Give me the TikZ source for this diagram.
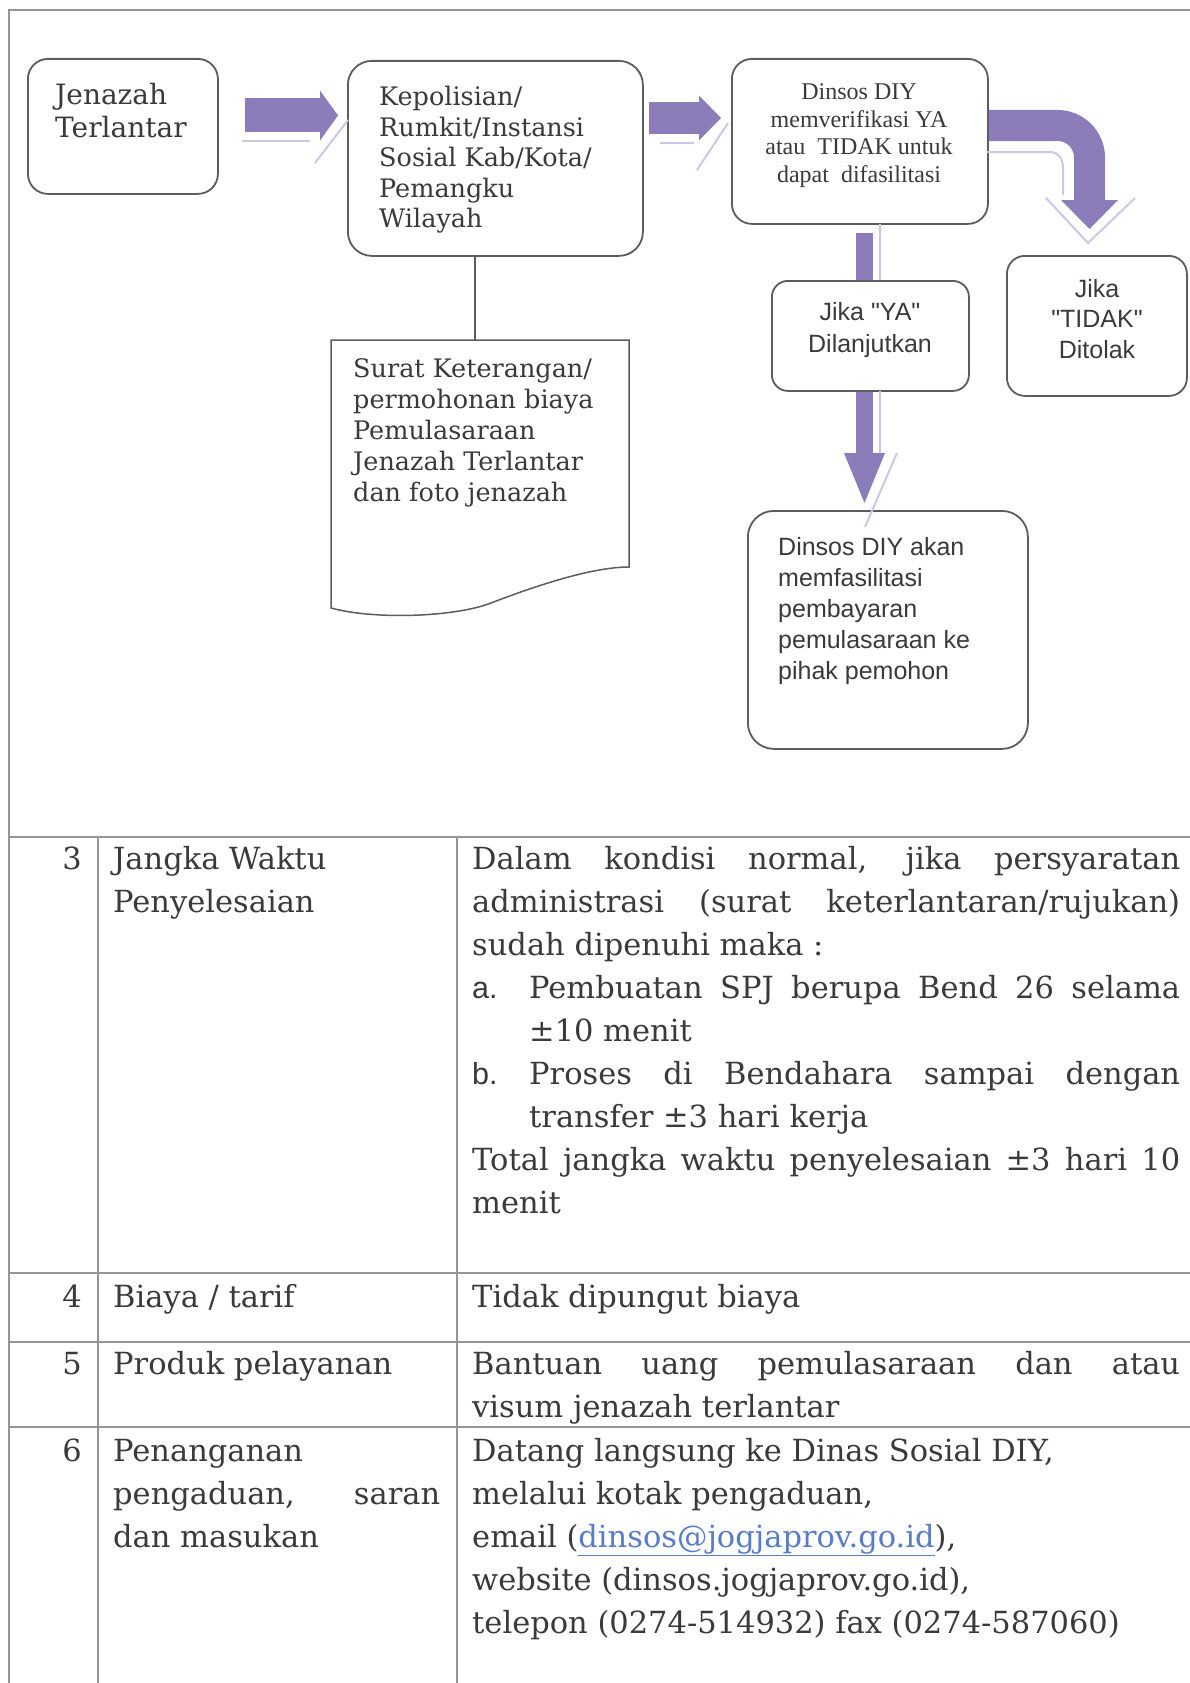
\documentclass[tikz,border=0pt]{standalone}
\usepackage{fontspec}
\setmainfont{DejaVu Serif}
\newfontfamily\timesfont{Liberation Serif}
\newfontfamily\arialfont{Liberation Sans}
\usetikzlibrary{arrows.meta}

\definecolor{ungu}{RGB}{141,124,186}
\definecolor{ungumuda}{RGB}{206,199,228}
\definecolor{tepi}{RGB}{92,92,92}
\definecolor{garistabel}{RGB}{150,150,150}
\definecolor{tinta}{RGB}{58,58,58}
\definecolor{tautan}{RGB}{88,124,200}

\newcommand{\susun}[1]{\begin{tabular}[t]{@{}l@{}}#1\end{tabular}}
\newcommand{\susunc}[1]{\begin{tabular}[t]{@{}c@{}}#1\end{tabular}}
\newcommand{\rata}[2]{\makebox[#1][s]{#2}}

\begin{document}
\begin{tikzpicture}[x=1pt, y=-1pt,
  kotak/.style={draw=tepi, line width=1.8pt, fill=white, rounded corners=20pt,
    inner sep=0pt, anchor=north west},
  tulis/.style={inner sep=0pt, text=tinta, anchor=base west},
  bookman/.style={tulis, font=\fontsize{25.5}{31}\selectfont},
  arial/.style={tulis, anchor=base, font=\arialfont\fontsize{25}{30.5}\selectfont},
  tabel/.style={tulis, font=\fontsize{30.5}{43}\selectfont},
  bayang/.style={ungumuda, line width=2pt},
  garis/.style={garistabel, line width=2pt}]
  \useasboundingbox (0,0) rectangle (1190,1683);

  % bingkai dan tabel
  \draw[garis] (9,1683) -- (9,10) -- (1190,10);
  \foreach \y in {837,1273,1342,1427}
    \draw[garis] (9,\y) -- (1190,\y);
  \foreach \x in {98,457}
    \draw[garis] (\x,837) -- (\x,1683);

  % kotak alur
  \node[kotak, minimum width=190pt, minimum height=135pt] (jenazah) at (27,58) {};
  \node[kotak, minimum width=295pt, minimum height=195pt, rounded corners=24pt] (kepolisian) at (347,60) {};
  \node[kotak, minimum width=256pt, minimum height=165pt] (verifikasi) at (731,58) {};
  \node[kotak, minimum width=197pt, minimum height=110pt, rounded corners=16pt] (ya) at (771,280) {};
  \node[kotak, minimum width=180pt, minimum height=140pt, rounded corners=18pt] (tidak) at (1006,255) {};
  \node[kotak, minimum width=280pt, minimum height=238pt, rounded corners=26pt] (fasilitasi) at (747,510) {};

  % dokumen surat
  \coordinate (suratAtas) at (475,340);
  \draw[tepi, line width=1.5pt] (331,340) -- (629,340) -- (629,567)
    .. controls (590,567) and (530,588) .. (491,603)
    .. controls (455,617) and (375,620) .. (331,608) -- cycle;
  \draw[tepi, line width=1.5pt] (kepolisian.south -| suratAtas) -- (suratAtas);

  % panah blok
  \coordinate (p1a) at (245,115.5);
  \coordinate (p1b) at (338,115.5);
  \coordinate (p2a) at (649,118);
  \coordinate (p2b) at (721,118);
  \coordinate (p3a) at (0,125.5);
  \coordinate (p3b) at (1089.5,229);
  \coordinate (p4a) at (864.5,233);
  \coordinate (p5b) at (864.5,503);
  \draw[bayang] (242,141) -- (310,141);
  \draw[bayang] (315,163) -- (348,120);
  \draw[bayang] (660,143) -- (694,143);
  \draw[bayang] (697,170) -- (728,123);
  \draw[bayang] (987,152) -- (1050,152) .. controls (1058,152) and (1063,158) .. (1063,168) -- (1063,195);
  \draw[bayang] (1046,198) -- (1088,243) -- (1135,198);
  \draw[bayang] (880,224) -- (880,280);
  \draw[bayang] (880,391) -- (880,453);
  \draw[bayang] (897,453) -- (865,527);
  \draw[ungu, line width=34pt, -{Triangle[width=50pt, length=18pt, line width=0pt]}] (p1a) -- (p1b);
  \draw[ungu, line width=32pt, -{Triangle[width=45pt, length=22pt, line width=0pt]}] (p2a) -- (p2b);
  \draw[ungu, line width=31pt, rounded corners=32pt, -{Triangle[width=57pt, length=29pt, line width=0pt]}]
    (verifikasi.east |- p3a) -| (p3b);
  \draw[ungu, line width=17pt] (p4a) -- (p4a |- ya.north);
  \draw[ungu, line width=17pt, -{Triangle[width=41pt, length=50pt, line width=0pt]}] (ya.south -| p5b) -- (p5b);

  % teks alur
  \node[tulis, font=\fontsize{28}{33}\selectfont] (jenazahT) at (55,105) {\susun{Jenazah\\Terlantar}};
  \node[bookman, font=\fontsize{25.5}{30.5}\selectfont] (kepolisianT) at (379,106)
    {\susun{Kepolisian/\\Rumkit/Instansi\\Sosial Kab/Kota/\\Pemangku\\Wilayah}};
  \node[tulis, anchor=base, font=\timesfont\fontsize{24}{27.5}\selectfont] (verifikasiT) at (859,100)
    {\susunc{Dinsos DIY\\memverifikasi YA\\atau\ \ TIDAK untuk\\dapat\ \ difasilitasi}};
  \node[arial, font=\arialfont\fontsize{25}{32}\selectfont] (yaT) at (870,320) {\susunc{Jika "YA"\\Dilanjutkan}};
  \node[arial] (tidakT) at (1097,297) {\susunc{Jika\\"TIDAK"\\Ditolak}};
  \node[arial, anchor=base west, font=\arialfont\fontsize{25}{31}\selectfont] (fasilitasiT) at (778,555)
    {\susun{Dinsos DIY akan\\memfasilitasi\\pembayaran\\pemulasaraan ke\\pihak pemohon}};
  \node[bookman] (suratT) at (353,377)
    {\susun{Surat Keterangan/\\permohonan biaya\\Pemulasaraan\\Jenazah Terlantar\\dan foto jenazah}};

  % isi tabel
  \node[tabel, anchor=base east] (no3) at (82,869) {3};
  \node[tabel, anchor=base east] (no4) at (82,1307) {4};
  \node[tabel, anchor=base east] (no5) at (82,1374) {5};
  \node[tabel, anchor=base east] (no6) at (82,1461) {6};
  \node[tabel] (hal3) at (113,869) {\susun{Jangka Waktu\\Penyelesaian}};
  \node[tabel] (hal4) at (113,1307) {Biaya / tarif};
  \node[tabel] (hal5) at (113,1374) {Produk pelayanan};
  \node[tabel] (hal6) at (113,1461) {\susun{Penanganan\\\rata{327pt}{pengaduan, saran}\\dan masukan}};
  \node[tabel] (isi3) at (472,869) {\susun{%
    \rata{708pt}{Dalam kondisi normal, jika persyaratan}\\
    \rata{708pt}{administrasi (surat keterlantaran/rujukan)}\\
    sudah dipenuhi maka :\\
    \makebox[57pt][l]{\arialfont a.}\rata{651pt}{Pembuatan SPJ berupa Bend 26 selama}\\
    \hspace*{57pt}±10 menit\\
    \makebox[57pt][l]{\arialfont b.}\rata{651pt}{Proses di Bendahara sampai dengan}\\
    \hspace*{57pt}transfer ±3 hari kerja\\
    \rata{708pt}{Total jangka waktu penyelesaian ±3 hari 10}\\
    menit}};
  \node[tabel] (isi4) at (472,1307) {Tidak dipungut biaya};
  \node[tabel] (isi5) at (472,1374) {\susun{\rata{708pt}{Bantuan uang pemulasaraan dan atau}\\visum jenazah terlantar}};
  \node[tabel] (isi6) at (472,1461) {\susun{Datang langsung ke Dinas Sosial DIY,\\
    melalui kotak pengaduan,\\
    email (\textcolor{tautan}{\underline{dinsos@jogjaprov.go.id}}),\\
    website (dinsos.jogjaprov.go.id),\\
    telepon (0274-514932) fax (0274-587060)}};
\end{tikzpicture}
\end{document}
